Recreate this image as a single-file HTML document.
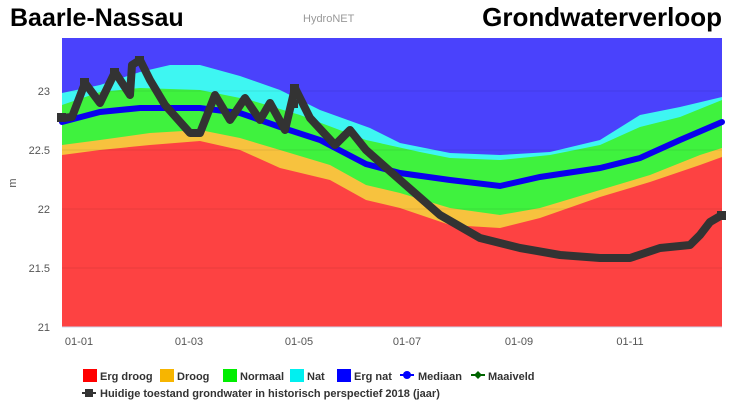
<!DOCTYPE html>
<html><head><meta charset="utf-8"><style>
body{margin:0;background:#fff;width:732px;height:413px;overflow:hidden;font-family:"Liberation Sans",sans-serif}
</style></head><body>
<svg width="732" height="413" xmlns="http://www.w3.org/2000/svg" font-family="Liberation Sans, sans-serif">
<rect width="732" height="413" fill="#fff"/>
<text x="10" y="26" font-size="25" font-weight="bold" fill="#000">Baarle-Nassau</text>
<text x="303" y="22" font-size="11" fill="#999">HydroNET</text>
<text x="722" y="26" font-size="26" font-weight="bold" fill="#000" text-anchor="end">Grondwaterverloop</text>
<rect x="62" y="38" width="660" height="289" fill="#4a42fc"/>
<polygon fill="#3ef6f2" points="62,93 100,85 140,72 170,65 200,65 240,76 280,90 320,110 370,128 400,143 450,153 500,155 550,152 600,140 640,115 680,107 722,97 722,327 62,327"/>
<polygon fill="#3ff23e" points="62,105 100,92 140,88 200,90 250,100 300,115 366,140 420,152 450,158 500,160 550,155 600,145 640,127 680,117 722,100 722,327 62,327"/>
<polygon fill="#f7c23e" points="62,145 100,140 150,133 200,130 240,138 280,150 330,165 366,185 400,193 450,208 500,215 540,208 600,190 650,175 700,155 722,148 722,327 62,327"/>
<polygon fill="#fd4242" points="62,155 100,150 150,145 200,141 240,150 280,168 330,180 366,200 400,208 450,225 500,228 540,218 600,197 650,182 700,165 722,157 722,327 62,327"/>
<g stroke="#000" stroke-opacity="0.08" stroke-width="1">
<line x1="62" y1="91" x2="722" y2="91"/><line x1="62" y1="150" x2="722" y2="150"/><line x1="62" y1="209" x2="722" y2="209"/><line x1="62" y1="268" x2="722" y2="268"/>
</g>
<polyline fill="none" stroke="#0a00ee" stroke-width="6" stroke-linecap="round" points="62,122 100,112 140,108 200,108 240,113 280,127 320,140 366,164 400,173 450,180 500,186 540,177 600,168 640,158 680,140 722,122"/>
<polyline fill="none" stroke="#333" stroke-width="8" stroke-linejoin="round" points="62,118 72,117 85,83 100,103 115,72 130,95 132,65 140,60 150,80 165,105 190,133 200,133 215,95 230,120 245,98 260,120 270,103 285,130 295,88 310,118 335,145 350,130 366,150 400,180 440,215 480,238 520,248 560,255 600,258 630,258 660,248 690,245 700,235 710,222 722,215"/>
<g fill="#333"><rect x="57" y="113" width="9" height="9"/><rect x="80" y="78" width="9" height="9"/><rect x="110" y="68" width="9" height="9"/><rect x="135" y="56" width="9" height="9"/><rect x="290" y="84" width="9" height="9"/><rect x="290" y="100" width="8" height="8"/><rect x="717" y="211" width="9" height="9"/></g>
<line x1="62" y1="327" x2="722" y2="327" stroke="#ccd6eb"/>
<g font-size="11" fill="#555" text-anchor="end">
<text x="50" y="95">23</text><text x="50" y="154">22.5</text><text x="50" y="213">22</text><text x="50" y="272">21.5</text><text x="50" y="331">21</text>
</g>
<text x="16" y="183" font-size="11" fill="#555" transform="rotate(-90 16 183)" text-anchor="middle">m</text>
<g font-size="11" fill="#555" text-anchor="middle">
<text x="79" y="345">01-01</text><text x="189" y="345">01-03</text><text x="299" y="345">01-05</text><text x="407" y="345">01-07</text><text x="519" y="345">01-09</text><text x="630" y="345">01-11</text>
</g>
<g font-size="11" font-weight="bold" fill="#333">
<rect x="83" y="369" width="14" height="13" fill="#ff0000"/><text x="100" y="380">Erg droog</text>
<rect x="160" y="369" width="14" height="13" fill="#f7b500"/><text x="177" y="380">Droog</text>
<rect x="223" y="369" width="14" height="13" fill="#00ee00"/><text x="240" y="380">Normaal</text>
<rect x="290" y="369" width="14" height="13" fill="#00f0f0"/><text x="307" y="380">Nat</text>
<rect x="337" y="369" width="14" height="13" fill="#0000ff"/><text x="354" y="380">Erg nat</text>
<line x1="400" y1="375" x2="414" y2="375" stroke="#0000ff" stroke-width="2"/><circle cx="407" cy="375" r="4" fill="#0000ff"/><text x="418" y="380">Mediaan</text>
<line x1="471" y1="375" x2="485" y2="375" stroke="#006400" stroke-width="2"/><path d="M478,371 L482,375 L478,379 L474,375Z" fill="#006400"/><text x="488" y="380">Maaiveld</text>
<line x1="82" y1="393" x2="96" y2="393" stroke="#333" stroke-width="2"/><rect x="85" y="389" width="8" height="8" fill="#333"/><text x="100" y="397">Huidige toestand grondwater in historisch perspectief 2018 (jaar)</text>
</g>
</svg>
</body></html>
